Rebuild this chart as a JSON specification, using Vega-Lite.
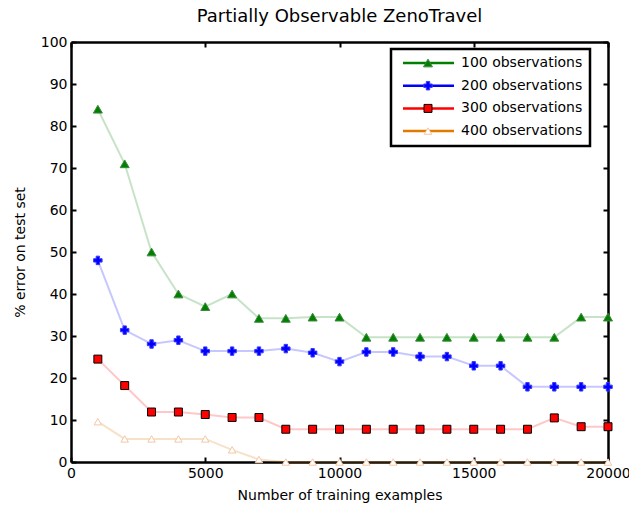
{
  "$schema": "https://vega.github.io/schema/vega-lite/v6.json",
  "width": 537,
  "height": 420,
  "autosize": "none",
  "padding": {"left": 71, "top": 42, "right": 21, "bottom": 43},
  "background": "white",
  "title": {"text": "Partially Observable ZenoTravel", "font": "DejaVu Sans", "fontSize": 18, "fontWeight": "normal", "color": "black", "offset": 9},
  "config": {
    "view": {"stroke": null},
    "axis": {
      "domainColor": "black", "domainWidth": 2.5, "tickColor": "black", "tickWidth": 2, "tickSize": -5,
      "labelFont": "DejaVu Sans", "labelFontSize": 14, "labelColor": "black", "labelPadding": 9, "labelFlush": false,
      "titleFont": "DejaVu Sans", "titleFontSize": 14, "titleFontWeight": "normal", "titleColor": "black",
      "grid": false
    }
  },
  "data": {"values": [
    {"series": "100 observations", "n": 1000, "err": 84},
    {"series": "100 observations", "n": 2000, "err": 71},
    {"series": "100 observations", "n": 3000, "err": 50},
    {"series": "100 observations", "n": 4000, "err": 40},
    {"series": "100 observations", "n": 5000, "err": 37},
    {"series": "100 observations", "n": 6000, "err": 40},
    {"series": "100 observations", "n": 7000, "err": 34.2},
    {"series": "100 observations", "n": 8000, "err": 34.2},
    {"series": "100 observations", "n": 9000, "err": 34.5},
    {"series": "100 observations", "n": 10000, "err": 34.5},
    {"series": "100 observations", "n": 11000, "err": 29.7},
    {"series": "100 observations", "n": 12000, "err": 29.7},
    {"series": "100 observations", "n": 13000, "err": 29.7},
    {"series": "100 observations", "n": 14000, "err": 29.7},
    {"series": "100 observations", "n": 15000, "err": 29.7},
    {"series": "100 observations", "n": 16000, "err": 29.7},
    {"series": "100 observations", "n": 17000, "err": 29.7},
    {"series": "100 observations", "n": 18000, "err": 29.7},
    {"series": "100 observations", "n": 19000, "err": 34.5},
    {"series": "100 observations", "n": 20000, "err": 34.5},
    {"series": "200 observations", "n": 1000, "err": 48},
    {"series": "200 observations", "n": 2000, "err": 31.4},
    {"series": "200 observations", "n": 3000, "err": 28.1},
    {"series": "200 observations", "n": 4000, "err": 29},
    {"series": "200 observations", "n": 5000, "err": 26.4},
    {"series": "200 observations", "n": 6000, "err": 26.4},
    {"series": "200 observations", "n": 7000, "err": 26.4},
    {"series": "200 observations", "n": 8000, "err": 27},
    {"series": "200 observations", "n": 9000, "err": 26},
    {"series": "200 observations", "n": 10000, "err": 23.9},
    {"series": "200 observations", "n": 11000, "err": 26.2},
    {"series": "200 observations", "n": 12000, "err": 26.2},
    {"series": "200 observations", "n": 13000, "err": 25.1},
    {"series": "200 observations", "n": 14000, "err": 25.1},
    {"series": "200 observations", "n": 15000, "err": 22.9},
    {"series": "200 observations", "n": 16000, "err": 22.9},
    {"series": "200 observations", "n": 17000, "err": 17.9},
    {"series": "200 observations", "n": 18000, "err": 17.9},
    {"series": "200 observations", "n": 19000, "err": 17.9},
    {"series": "200 observations", "n": 20000, "err": 17.9},
    {"series": "300 observations", "n": 1000, "err": 24.5},
    {"series": "300 observations", "n": 2000, "err": 18.2},
    {"series": "300 observations", "n": 3000, "err": 11.9},
    {"series": "300 observations", "n": 4000, "err": 11.9},
    {"series": "300 observations", "n": 5000, "err": 11.3},
    {"series": "300 observations", "n": 6000, "err": 10.6},
    {"series": "300 observations", "n": 7000, "err": 10.6},
    {"series": "300 observations", "n": 8000, "err": 7.8},
    {"series": "300 observations", "n": 9000, "err": 7.8},
    {"series": "300 observations", "n": 10000, "err": 7.8},
    {"series": "300 observations", "n": 11000, "err": 7.8},
    {"series": "300 observations", "n": 12000, "err": 7.8},
    {"series": "300 observations", "n": 13000, "err": 7.8},
    {"series": "300 observations", "n": 14000, "err": 7.8},
    {"series": "300 observations", "n": 15000, "err": 7.8},
    {"series": "300 observations", "n": 16000, "err": 7.8},
    {"series": "300 observations", "n": 17000, "err": 7.8},
    {"series": "300 observations", "n": 18000, "err": 10.5},
    {"series": "300 observations", "n": 19000, "err": 8.4},
    {"series": "300 observations", "n": 20000, "err": 8.4},
    {"series": "400 observations", "n": 1000, "err": 9.6},
    {"series": "400 observations", "n": 2000, "err": 5.5},
    {"series": "400 observations", "n": 3000, "err": 5.5},
    {"series": "400 observations", "n": 4000, "err": 5.5},
    {"series": "400 observations", "n": 5000, "err": 5.5},
    {"series": "400 observations", "n": 6000, "err": 2.9},
    {"series": "400 observations", "n": 7000, "err": 0.6},
    {"series": "400 observations", "n": 8000, "err": 0},
    {"series": "400 observations", "n": 9000, "err": 0},
    {"series": "400 observations", "n": 10000, "err": 0},
    {"series": "400 observations", "n": 11000, "err": 0},
    {"series": "400 observations", "n": 12000, "err": 0},
    {"series": "400 observations", "n": 13000, "err": 0},
    {"series": "400 observations", "n": 14000, "err": 0},
    {"series": "400 observations", "n": 15000, "err": 0},
    {"series": "400 observations", "n": 16000, "err": 0},
    {"series": "400 observations", "n": 17000, "err": 0},
    {"series": "400 observations", "n": 18000, "err": 0},
    {"series": "400 observations", "n": 19000, "err": 0},
    {"series": "400 observations", "n": 20000, "err": 0}
  ]},
  "resolve": {"axis": {"x": "independent", "y": "independent"}},
  "layer": [
    {
      "mark": {"type": "line", "strokeWidth": 2, "opacity": 0.22},
      "encoding": {
        "x": {"field": "n", "type": "quantitative", "scale": {"domain": [0, 20000], "nice": false},
              "axis": {"orient": "bottom", "values": [0, 5000, 10000, 15000, 20000], "format": "d", "title": "Number of training examples", "titlePadding": 8}},
        "y": {"field": "err", "type": "quantitative", "scale": {"domain": [0, 100], "nice": false},
              "axis": {"orient": "left", "values": [0, 10, 20, 30, 40, 50, 60, 70, 80, 90, 100], "title": "% error on test set", "titlePadding": 13}},
        "color": {"field": "series", "type": "nominal",
                  "scale": {"domain": ["100 observations", "200 observations", "300 observations", "400 observations"], "range": ["#007f00", "#0000ff", "#ff0000", "#e07b00"]},
                  "legend": {"title": null, "orient": "none", "legendX": 320, "legendY": 7,
                             "symbolType": "M-0.4,0H9.8", "symbolSize": 100, "symbolStrokeWidth": 2.5, "symbolOpacity": 1,
                             "labelFont": "DejaVu Sans", "labelFontSize": 14, "labelColor": "black", "labelOffset": 49,
                             "rowPadding": 8.7, "padding": 7, "strokeColor": "black",
                             "encode": {"legend": {"update": {"strokeWidth": {"value": 2.5}}}}}}
      }
    },
    {
      "mark": {"type": "point", "opacity": 1},
      "encoding": {
        "x": {"field": "n", "type": "quantitative",
              "axis": {"orient": "top", "values": [0, 5000, 10000, 15000, 20000], "labels": false, "title": null}},
        "y": {"field": "err", "type": "quantitative",
              "axis": {"orient": "right", "values": [0, 10, 20, 30, 40, 50, 60, 70, 80, 90, 100], "labels": false, "title": null}},
        "shape": {"field": "series", "type": "nominal",
                  "scale": {"range": ["triangle-up", "cross", "square", "triangle-up"]},
                  "legend": {"title": null, "orient": "none", "legendX": 343, "legendY": 7, "labelExpr": "' '",
                             "labelFont": "DejaVu Sans", "labelFontSize": 14, "rowPadding": 8.7, "padding": 7, "symbolOpacity": 1}},
        "fill": {"field": "series", "type": "nominal", "scale": {"range": ["#007f00", "#0000ff", "#ff0000", "#ffffff"]}},
        "stroke": {"field": "series", "type": "nominal", "scale": {"range": ["#3a8a3a", "#3a3aff", "#000000", "#f3c7a6"]}},
        "strokeWidth": {"field": "series", "type": "nominal", "scale": {"range": [1, 1, 2.5, 1.5]}},
        "size": {"field": "series", "type": "nominal", "scale": {"range": [80, 55, 80, 80]}}
      }
    }
  ]
}
